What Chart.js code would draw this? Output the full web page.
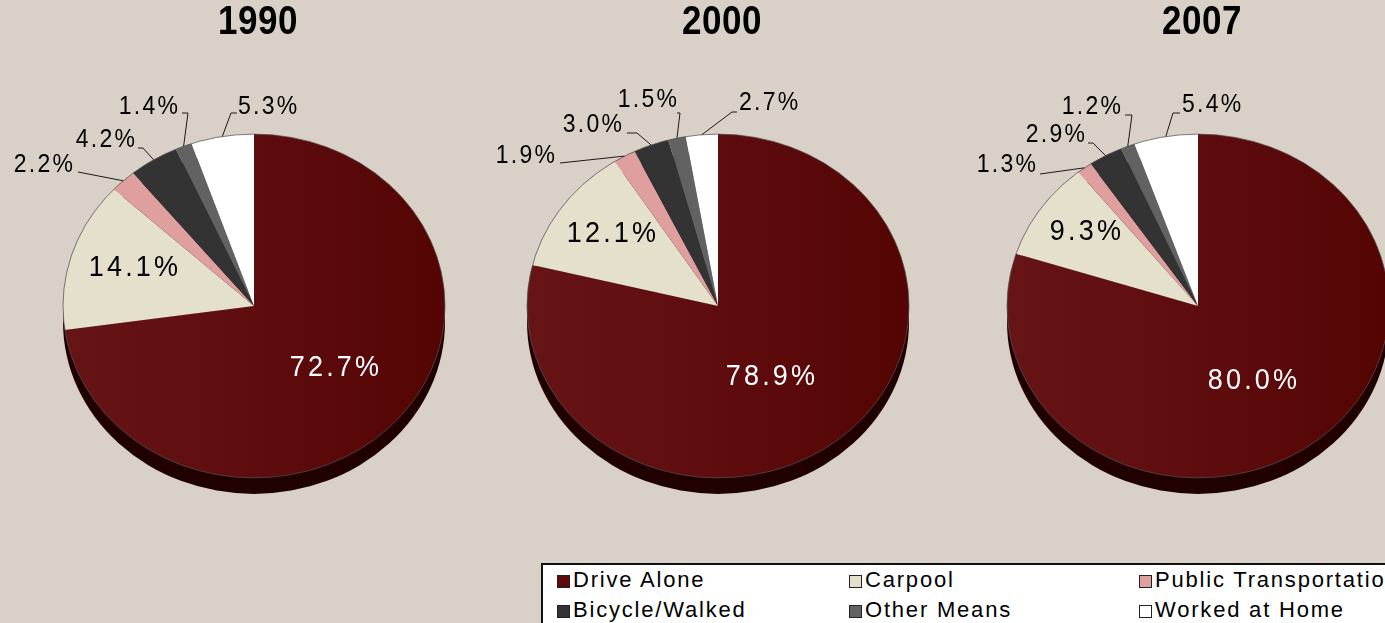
<!DOCTYPE html>
<html><head><meta charset="utf-8">
<script src="https://cdn.jsdelivr.net/npm/chart.js@4.4.1/dist/chart.umd.min.js"></script>
<style>
html,body{margin:0;padding:0;background:#d9d1c8;width:1385px;height:623px;overflow:hidden;font-family:"Liberation Sans",Arial,sans-serif;position:relative;}
canvas.pie{position:absolute;left:0;top:0;}
#legend{position:absolute;left:541px;top:563px;width:900px;height:72px;background:#fff;border:2px solid #111;box-sizing:border-box;}
.item{position:absolute;font-size:22px;letter-spacing:1.8px;color:#000;line-height:26px;white-space:nowrap;}
.sw{display:inline-block;width:11px;height:11px;border:1px solid #222;margin-right:3px;vertical-align:-1px;}
</style>
</head><body>
<div id="legend"></div>
<script>
// ---- data ----
const categories = ['Drive Alone','Carpool','Public Transportation','Bicycle/Walked','Other Means','Worked at Home'];
const years = ['1990','2000','2007'];
const values1990 = [72.7, 14.1, 2.2, 4.2, 1.4, 5.3];
const values2000 = [78.9, 12.1, 1.9, 3.0, 1.5, 2.7];
const values2007 = [80.0, 9.3, 1.3, 2.9, 1.2, 5.4];

// ---- styles / layout ----
const sliceColors = ['#5c0a0c','#e5e0cc','#df9f9f','#333333','#626262','#ffffff'];
const seriesByYear = [values1990, values2000, values2007];
const pieCentersX = [254, 718, 1198];
const CY = 306, R = 191, W = 1400, H = 623, K = 0.90, DEPTH = 16, LABEL_DY = -2;

// label placement relative to pie centre: t = text anchor, line = leader points after the arc edge
const labelPlacement = [
  [ {t:[82,64],align:'center',c:'#fff'}, {t:[-119,-36],align:'center',c:'#000'},
    {t:[-181,-139],align:'right',line:[[-176,-132]]},
    {t:[-119,-164],align:'right',line:[[-111,-156],[-116,-156]]},
    {t:[-76,-197],align:'right',line:[[-66,-191],[-72,-191]]},
    {t:[-16,-197],align:'left',line:[[-23,-191],[-17,-191]]} ],
  [ {t:[54,73],align:'center',c:'#fff'}, {t:[-105,-70],align:'center',c:'#000'},
    {t:[-163,-148],align:'right',line:[[-158,-141]]},
    {t:[-96,-179],align:'right',line:[[-81,-171],[-91,-171]]},
    {t:[-41,-204],align:'right',line:[[-38,-191],[-41,-191]]},
    {t:[21,-201],align:'left',line:[[14,-192],[19,-192]]} ],
  [ {t:[56,77],align:'center',c:'#fff'}, {t:[-111,-72],align:'center',c:'#000'},
    {t:[-162,-139],align:'right',line:[[-158,-130]]},
    {t:[-113,-169],align:'right',line:[[-105,-161],[-110,-161]]},
    {t:[-77,-197],align:'right',line:[[-66,-189],[-73,-189]]},
    {t:[-16,-199],align:'left',line:[[-25,-191],[-18,-191]]} ]
];

function drawText(ctx, s, x, y, align, font, color, vs, sp){
  ctx.save();
  ctx.translate(x, y);
  ctx.scale(1, vs);
  ctx.font = font;
  ctx.letterSpacing = sp + 'px';
  ctx.textAlign = align;
  ctx.textBaseline = 'middle';
  ctx.fillStyle = color;
  let dx = 0;
  if (align === 'right') dx = sp;
  ctx.fillText(s, dx, 0);
  ctx.restore();
}

const pie3d = {
  id: 'pie3d',
  beforeDatasetsDraw(chart){
    const arc = chart.getDatasetMeta(0).data[0];
    const cx = arc.x, cy = arc.y, r = arc.outerRadius;
    const ctx = chart.ctx;
    ctx.save();
    ctx.fillStyle = '#210000';
    ctx.beginPath(); ctx.ellipse(cx, cy + DEPTH, r, r * K, 0, 0, Math.PI * 2); ctx.fill();
    ctx.restore();
    ctx.save();
    ctx.translate(cx, cy); ctx.scale(1, K); ctx.translate(-cx, -cy);
  },
  afterDatasetsDraw(chart, args, opts){
    const ctx = chart.ctx;
    ctx.restore();
    const meta = chart.getDatasetMeta(0);
    const arc0 = meta.data[0];
    const cx = arc0.x, cy = arc0.y, r = arc0.outerRadius;
    const ly = cy + LABEL_DY;
    ctx.save();
    ctx.strokeStyle = 'rgba(80,80,80,0.75)';
    ctx.lineWidth = 1;
    ctx.beginPath(); ctx.ellipse(cx, cy, r, r * K, 0, 0, Math.PI * 2); ctx.stroke();
    ctx.restore();
    const idx = opts.idx;
    const vals = chart.data.datasets[0].data;
    const place = labelPlacement[idx];
    meta.data.forEach((el, i) => {
      const p = place[i];
      const txt = vals[i].toFixed(1) + '%';
      if (p.line){
        const a = (el.startAngle + el.endAngle) / 2;
        const ex = cx + r * Math.cos(a), ey = cy + r * K * Math.sin(a);
        ctx.save();
        ctx.strokeStyle = '#1a1a1a'; ctx.lineWidth = 1;
        ctx.beginPath(); ctx.moveTo(ex, ey);
        p.line.forEach(q => ctx.lineTo(cx + q[0], ly + q[1]));
        ctx.stroke();
        ctx.restore();
        drawText(ctx, txt, cx + p.t[0], ly + p.t[1], p.align, '23px "Liberation Sans", Arial, sans-serif', '#000', 1.1, 2.3);
      } else {
        drawText(ctx, txt, cx + p.t[0], ly + p.t[1], 'center', '27px "Liberation Sans", Arial, sans-serif', p.c, 1.1, 3.2);
      }
    });
    drawText(ctx, years[idx], cx + 4, 23, 'center', 'bold 35px "Liberation Sans", Arial, sans-serif', '#000', 1.15, 0.5);
  }
};

years.forEach((yr, idx) => {
  const cx = pieCentersX[idx];
  const cv = document.createElement('canvas');
  cv.className = 'pie'; cv.width = W; cv.height = H;
  document.body.appendChild(cv);
  new Chart(cv, {
    type: 'pie',
    data: {
      labels: categories,
      datasets: [{
        data: seriesByYear[idx],
        backgroundColor: (c) => {
          if (c.dataIndex === 0) {
            const ch = c.chart, a = ch.chartArea;
            if (!a) return sliceColors[0];
            const g = ch.ctx.createLinearGradient(a.left, 0, a.right, 0);
            g.addColorStop(0, '#671417'); g.addColorStop(1, '#550404');
            return g;
          }
          return sliceColors[c.dataIndex];
        },
        borderWidth: 0,
        clip: false
      }]
    },
    options: {
      responsive: false, animation: false, events: [],
      layout: { padding: { left: cx - R, right: W - cx - R, top: CY - R, bottom: H - CY - R } },
      plugins: { legend: { display: false }, tooltip: { enabled: false }, title: { display: false }, pie3d: { idx } }
    },
    plugins: [pie3d]
  });
});

const legend = document.getElementById('legend');
const legendCols = [14, 306, 596], legendRows = [2, 32];
categories.forEach((name, i) => {
  const d = document.createElement('div');
  d.className = 'item';
  d.style.left = legendCols[i % 3] + 'px';
  d.style.top = legendRows[Math.floor(i / 3)] + 'px';
  const sw = document.createElement('span');
  sw.className = 'sw'; sw.style.background = sliceColors[i];
  d.appendChild(sw);
  d.appendChild(document.createTextNode(name));
  legend.appendChild(d);
});
</script>
</body></html>
